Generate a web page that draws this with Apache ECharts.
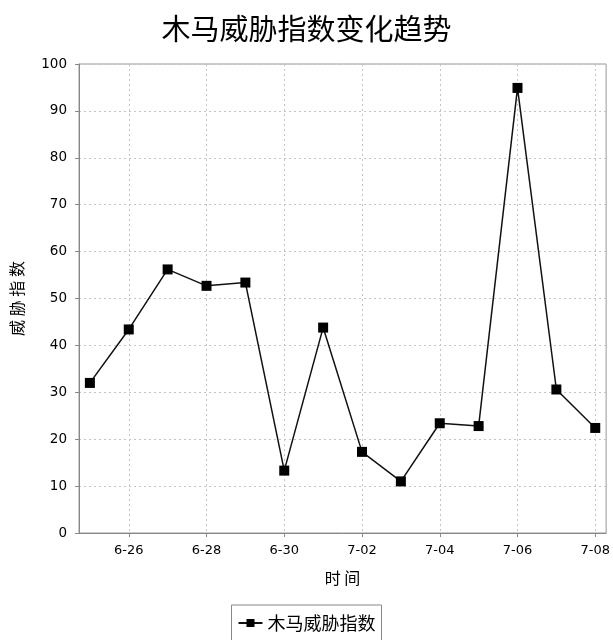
<!DOCTYPE html>
<html>
<head>
<meta charset="utf-8">
<script src="https://cdn.jsdelivr.net/npm/echarts@6/dist/echarts.min.js"></script>
<style>
html,body{margin:0;padding:0;background:#ffffff;}
#chart{width:613px;height:640px;}
</style>
</head>
<body>
<div id="chart"></div>
<script>
// Data
var categories = ['6-25','6-26','6-27','6-28','6-29','6-30','7-01','7-02','7-03','7-04','7-05','7-06','7-07','7-08'];
var threatValues = [32.0, 43.4, 56.2, 52.7, 53.4, 13.3, 43.8, 17.3, 11.0, 23.4, 22.8, 94.9, 30.6, 22.4];
var xTickIndices = [1, 3, 5, 7, 9, 11, 13];
var yTicks = [0, 10, 20, 30, 40, 50, 60, 70, 80, 90, 100];

var titleText = '木马威胁指数变化趋势';
var seriesName = '木马威胁指数';
var yAxisName = '威 胁 指 数';
var xAxisName = '时 间';

var seriesData = threatValues.map(function (v, i) { return [i, v]; });

var chart = echarts.init(document.getElementById('chart'), null, {renderer: 'canvas'});
chart.setOption({
  backgroundColor: '#ffffff',
  animation: false,
  title: {
    text: titleText,
    left: 'center',
    top: 9,
    textStyle: {fontFamily: 'Noto Sans CJK SC', fontSize: 29, fontWeight: 'normal', color: '#000'}
  },
  legend: {
    data: [seriesName],
    left: 'center',
    top: 605,
    padding: [9, 6, 10, 6],
    borderColor: '#888',
    borderWidth: 1,
    itemWidth: 24,
    itemHeight: 10,
    itemGap: 4,
    textStyle: {fontFamily: 'Noto Sans CJK SC', fontSize: 18, color: '#000'}
  },
  grid: {
    left: 79,
    right: 6,
    top: 64,
    bottom: 107,
    show: true,
    borderColor: '#999',
    borderWidth: 1,
    backgroundColor: '#fff'
  },
  xAxis: {
    type: 'value',
    min: -0.28,
    max: 13.28,
    name: xAxisName,
    nameLocation: 'middle',
    nameGap: 37,
    nameTextStyle: {fontFamily: 'Noto Sans CJK SC', fontSize: 16, color: '#000'},
    axisLine: {show: true, onZero: false, lineStyle: {color: '#888', width: 1}},
    axisTick: {show: true, inside: false, length: 4, customValues: xTickIndices, lineStyle: {color: '#888'}},
    axisLabel: {
      customValues: xTickIndices,
      margin: 11,
      fontFamily: 'DejaVu Sans',
      fontSize: 13,
      color: '#000',
      formatter: function (v) { return categories[Math.round(v)]; }
    },
    splitLine: {show: true, lineStyle: {color: '#c4c4c4', type: [2, 3], width: 1}}
  },
  yAxis: {
    type: 'value',
    min: 0,
    max: 100,
    interval: 10,
    name: yAxisName,
    nameLocation: 'middle',
    nameGap: 54,
    nameTextStyle: {fontFamily: 'Noto Sans CJK SC', fontSize: 16, color: '#000'},
    axisLine: {show: true, onZero: false, lineStyle: {color: '#888', width: 1}},
    axisTick: {show: true, inside: false, length: 4, lineStyle: {color: '#888'}},
    axisLabel: {
      margin: 12,
      fontFamily: 'DejaVu Sans',
      fontSize: 13.5,
      color: '#000',
      formatter: function (v) { return yTicks.indexOf(v) >= 0 ? String(v) : ''; }
    },
    splitLine: {show: true, lineStyle: {color: '#c4c4c4', type: [2, 3], width: 1}}
  },
  series: [{
    name: seriesName,
    type: 'line',
    data: seriesData,
    symbol: 'rect',
    symbolSize: 10,
    showSymbol: true,
    color: '#000',
    lineStyle: {color: '#111', width: 1.5},
    itemStyle: {color: '#000', borderWidth: 0}
  }]
});
</script>
</body>
</html>
